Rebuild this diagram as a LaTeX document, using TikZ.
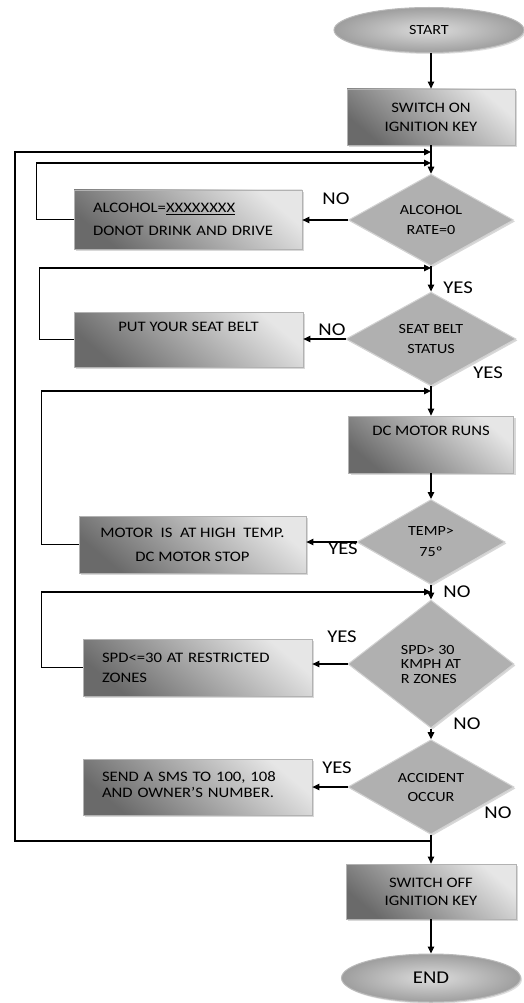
\documentclass[tikz,border=0pt]{standalone}
\usepackage{fontspec}
\setmainfont{Carlito}[FakeStretch=1.15]
\usetikzlibrary{arrows.meta,shapes.geometric,shadows}
\definecolor{bdark}{HTML}{6A6A6A}
\definecolor{blight}{HTML}{E6E6E6}
\definecolor{dfill}{HTML}{B0B0B0}
\definecolor{dedge}{HTML}{D2D2D2}
\definecolor{edark}{HTML}{9E9E9E}
\definecolor{elight}{HTML}{DCDCDC}
\newcommand\fsz[2]{\fontsize{#1}{#2}\selectfont}
\tikzset{
  box/.style={rectangle, draw=gray!60, line width=0.8pt, inner sep=0pt,
    top color=blight, bottom color=bdark, shading angle=-40,
    drop shadow={shadow xshift=2pt, shadow yshift=-2pt, fill=black!30, opacity=0.5}},
  dia/.style={diamond, draw=dedge, line width=1pt, fill=dfill, inner sep=0pt,
    drop shadow={shadow xshift=1.5pt, shadow yshift=-1.5pt, fill=black!30, opacity=0.5}},
  oval/.style={ellipse, draw=gray!55, line width=1pt, inner sep=0pt,
    inner color=elight, outer color=edark,
    drop shadow={shadow xshift=1.5pt, shadow yshift=-1.5pt, fill=black!25, opacity=0.5}},
  lab/.style={inner sep=0pt, font=\fsz{18}{20}},
  txt/.style={inner sep=0pt},
  line/.style={draw=black, line width=1.1pt},
  arr/.style={line, -{Triangle[length=7pt,width=6.5pt]}}
}
\begin{document}
\begin{tikzpicture}[x=1pt,y=-1pt]
\useasboundingbox (0,0) rectangle (523,1003);
\fill[white] (0,0) rectangle (523,1003);

% main column
\node[oval, minimum width=190, minimum height=45, font=\fsz{14}{16}] (start) at (429,30) {START};
\node[box, minimum width=168, minimum height=56, align=center, font=\fsz{14.5}{19}] (on) at (431,117) {SWITCH ON\\IGNITION KEY};
\node[dia, minimum width=165, minimum height=84, align=center, font=\fsz{14}{20}] (alc) at (431,220) {ALCOHOL\\RATE=0};
\node[dia, minimum width=170, minimum height=82, align=center, font=\fsz{14}{20}] (seat) at (431,339) {SEAT BELT\\STATUS};
\node[box, minimum width=165, minimum height=57] (dc) at (431,444.5) {};
\node[txt, font=\fsz{14.5}{17}] (dcT) at (431,431) {DC MOTOR RUNS};
\node[dia, minimum width=148, minimum height=85, align=center, font=\fsz{14}{21}] (temp) at (431,542) {TEMP>\\75º};
\node[dia, minimum width=166, minimum height=128, align=left, font=\fsz{14}{14.5}] (spd) at (431,664) {SPD> 30\\KMPH AT\\R ZONES};
\node[dia, minimum width=166, minimum height=82, align=center, font=\fsz{14}{19}] (acc) at (431,787) {ACCIDENT\\OCCUR};
\node[box, minimum width=170, minimum height=55, align=center, font=\fsz{14.5}{18}] (off) at (431,891.5) {SWITCH OFF\\IGNITION KEY};
\node[oval, minimum width=179, minimum height=48, font=\fsz{18}{20}] (end) at (431,978) {END};

% left column boxes
\node[box, minimum width=228, minimum height=59, text width=190, align=left, font=\fsz{14.5}{23}] (alcbox) at (188,219.5) {ALCOHOL=\underline{XXXXXXXX}\\DONOT DRINK AND DRIVE};
\node[box, minimum width=229, minimum height=55] (belt) at (188.5,339.5) {};
\node[txt, font=\fsz{14.5}{17}] (beltT) at (188.5,327) {PUT YOUR SEAT BELT};
\node[box, minimum width=227, minimum height=57, align=center, font=\fsz{14.5}{24}] (motor) at (192.5,544.5) {MOTOR\ \ IS\ \ AT HIGH\ \ TEMP.\\DC MOTOR STOP};
\node[box, minimum width=229, minimum height=57, text width=191, align=left, font=\fsz{14.5}{20}] (spdbox) at (197.5,667.5) {SPD<=30 AT RESTRICTED\\ZONES};
\node[box, minimum width=229, minimum height=56, text width=191, align=left, font=\fsz{14.5}{16.5}] (sms) at (197.5,787) {\raisebox{5pt}{SEND A SMS TO 100, 108}\\\raisebox{5pt}{AND OWNER’S NUMBER.}};

% junction points on the main line
\coordinate (m1) at (431,152);
\coordinate (m2) at (431,163);
\coordinate (m3) at (431,268);
\coordinate (m4) at (431,391);
\coordinate (m5) at (431,592);
\coordinate (m6) at (431,841);

% labels
\node[lab] (lno1) at (336,199) {NO};
\node[lab] (lyes1) at (458,288) {YES};
\node[lab] (lno2) at (332,330) {NO};
\node[lab] (lyes2) at (488,373) {YES};
\node[lab] (lyes3) at (343,549) {YES};
\node[lab] (lno3) at (457,592) {NO};
\node[lab] (lyes4) at (342,637) {YES};
\node[lab] (lno4) at (467,724) {NO};
\node[lab] (lyes5) at (337,768) {YES};
\node[lab] (lno5) at (498,813) {NO};

% main flow
\draw[arr] (start.south -| on.north) -- (on.north);
\draw[arr] (on.south) -- (alc.north);
\draw[arr] (alc.south) -- (seat.north);
\draw[arr] (seat.south) -- (dc.north);
\draw[arr] (dc.south) -- (temp.north);
\draw[arr] (temp.south) -- (spd.north);
\draw[arr] (spd.south) -- (acc.north);
\draw[arr] (acc.south) -- (off.north);
\draw[arr] (off.south) -- (end.north);

% side branches
\draw[arr] (alc.west) -- (alcbox.east |- alc.west);
\draw[arr] (seat.west) -- (belt.east |- seat.west);
\draw[arr] (temp.west) -- (motor.east |- temp.west);
\draw[arr] (spd.west) -- (spdbox.east |- spd.west);
\draw[arr] (acc.west) -- (sms.east |- acc.west);

% loops back
\draw[arr] (alcbox.west) -- ++(-37,0) |- (m2);
\draw[arr] (belt.west) -- ++(-34,0) |- (m3);
\draw[arr] (motor.west) -- ++(-37,0) |- (m4);
\draw[arr] (spdbox.west) -- ++(-41,0) |- (m5);
\draw[arr] (m6) -- ++(-416,0) |- (m1);
\end{tikzpicture}
\end{document}
